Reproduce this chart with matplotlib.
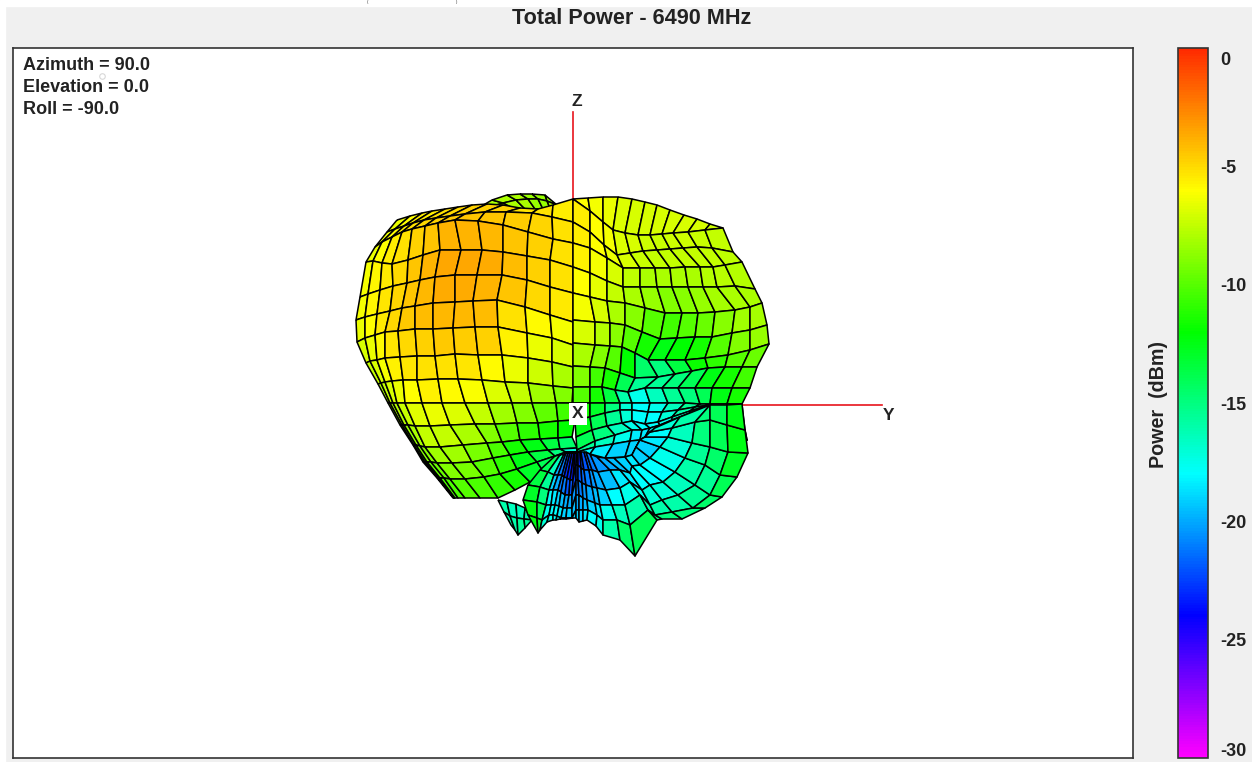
import numpy as np
import matplotlib
matplotlib.use("Agg")
import matplotlib.pyplot as plt
from matplotlib.colors import LinearSegmentedColormap
from matplotlib.patches import Rectangle

plt.rcParams['font.family'] = ['Liberation Sans', 'DejaVu Sans']

# mesh nodes, in the plot box's own units
left_nodes = [
    [(397,220),(410,216),(422,213),(432,211),(445,209),(458,207),(472,205),(487,204),(503,205),(520,208),(538,209),(553,205),(573,199)],
    [(387,232),(395,229),(404,226),(413,223),(424,220),(436,218),(450,216),(465,214),(485,212),(506,212),(532,213),(552,217),(573,222)],
    [(375,247),(382,242),(392,237),(402,232),(412,229),(425,226),(438,223),(455,220),(478,221),(503,225),(528,232),(553,239),(573,243)],
    [(366,262),(373,261),(382,263),(392,264),(408,260),(423,255),(440,250),(461,250),(482,250),(503,252),(527,256),(550,260),(573,267)],
    [(360,297),(368,294),(380,290),(393,286),(407,283),(420,280),(435,277),(455,275),(477,275),(502,275),(527,280),(550,287),(573,293)],
    [(356,320),(365,317),(377,314),(390,311),(402,308),(415,306),(433,303),(455,302),(473,301),(497,300),(525,307),(550,315),(573,322)],
    [(357,342),(365,338),(375,335),(385,332),(398,331),(415,329),(433,329),(453,328),(475,327),(498,327),(527,333),(552,338),(573,345)],
    [(366,363),(370,361),(377,360),(385,358),(400,357),(417,356),(435,356),(455,354),(478,355),(502,355),(528,358),(552,362),(573,367)],
    [(378,384),(381,383),(385,382),(392,381),(403,380),(417,380),(438,379),(458,379),(482,380),(505,382),(528,383),(553,386),(573,388)],
    [(388,403),(390,403),(393,403),(397,403),(405,403),(422,403),(442,403),(465,403),(488,403),(512,403),(532,403),(556,403),(572,403)],
    [(400,425),(402,425),(404,425),(408,425),(415,426),(430,426),(450,425),(475,424),(495,424),(517,423),(538,423),(558,421),(575,420)],
    [(413,445),(414,445),(416,445),(420,446),(425,447),(440,447),(463,445),(487,443),(502,442),(520,440),(540,439),(558,438),(572,437)],
    [(423,462),(425,462),(427,462),(431,462),(437,463),(452,463),(472,462),(493,458),(510,455),(528,452),(548,450),(560,449),(577,448)],
    [(437,478),(438,478),(440,478),(444,478),(450,479),(465,479),(484,477),(500,474),(517,469),(537,462),(555,456),(566,452),(577,452)],
    [(453,498),(454,498),(455,498),(458,498),(465,498),(480,498),(498,498),(515,490),(530,482),(545,474),(562,462),(570,452),(577,452)],
]
left_db = [
    [-6.5,-6,-5.6,-5.6,-5.2,-5,-4.8,-4.8,-4.8,-5.2,-5.2,-5.6],
    [-6.5,-6,-5.6,-5.2,-5,-4.8,-4.5,-4.4,-4.4,-4.6,-4.9,-5.2],
    [-6.5,-6,-5.6,-5.2,-4.8,-4.4,-3.9,-3.9,-4,-4.4,-4.8,-5.2],
    [-6.3,-5.8,-5.4,-5,-4.4,-3.9,-3.6,-3.6,-3.7,-4.2,-4.8,-5.2],
    [-6.3,-5.8,-5.3,-4.9,-4.4,-4,-3.7,-3.7,-3.9,-4.4,-5,-5.5],
    [-6.5,-6,-5.4,-5,-4.5,-4.2,-4,-4,-4.2,-5.2,-5.9,-6.3],
    [-7,-6.5,-5.9,-5.3,-5,-4.7,-4.5,-4.6,-4.8,-5.7,-6.5,-7],
    [-7.5,-7,-6.3,-5.7,-5.3,-5.2,-5.2,-5.3,-5.9,-6.5,-7.2,-8],
    [-8,-7.5,-7,-6.5,-6,-5.7,-5.9,-6.2,-6.8,-7.5,-8.3,-9],
    [-8.5,-8,-7.8,-7.3,-6.7,-6.5,-6.8,-7.5,-8.3,-9,-9.8,-10.5],
    [-9,-8.8,-8.5,-8,-7.5,-7.5,-8,-9,-10,-11,-11.5,-12],
    [-9.5,-9.3,-9,-8.8,-8.3,-8.3,-9.2,-10.2,-11.5,-12.5,-13.5,-14.5],
    [-10,-9.8,-9.6,-9.5,-9,-9.2,-10,-11,-12.5,-13.5,-15,-17],
    [-10.3,-10.3,-10.2,-10.2,-10,-10.2,-10.8,-11.5,-13,-14,-15.5,-17],
]

right_nodes = [
    [(573,199),(588,198),(603,197),(618,197),(632,199),(645,202),(657,205),(670,210),(684,215),(697,219),(710,224),(723,228)],
    [(573,199),(590,211),(603,222),(613,230),(625,233),(638,235),(650,235),(662,234),(673,233),(688,232),(705,230),(723,228)],
    [(573,222),(590,232),(604,245),(617,255),(630,253),(643,251),(657,250),(670,249),(683,248),(697,247),(712,248),(733,252)],
    [(573,243),(590,248),(607,258),(623,268),(640,268),(655,268),(670,268),(685,267),(700,267),(713,267),(725,265),(742,262)],
    [(573,267),(590,273),(607,281),(623,287),(640,287),(657,287),(672,287),(688,287),(703,287),(717,287),(735,286),(755,289)],
    [(573,293),(590,297),(607,301),(625,303),(645,308),(665,313),(682,313),(698,313),(715,312),(735,310),(750,307),(762,303)],
    [(573,320),(595,322),(610,323),(625,325),(642,332),(660,339),(677,338),(695,337),(712,337),(732,333),(750,330),(767,325)],
    [(573,343),(595,345),(610,346),(622,347),(635,353),(648,360),(665,360),(685,360),(705,358),(728,355),(750,350),(769,344)],
    [(573,366),(590,367),(605,368),(620,373),(635,378),(658,377),(675,374),(692,371),(708,368),(725,367),(742,367),(757,367)],
    [(573,387),(590,387),(602,387),(615,390),(628,392),(645,388),(662,388),(678,388),(695,388),(712,388),(732,388),(750,388)],
    [(573,403),(590,403),(605,403),(620,403),(632,403),(650,403),(668,403),(685,403),(700,404),(710,404),(727,404),(742,404)],
    [(575,420),(590,417),(605,413),(620,410),(632,410),(648,412),(662,412),(678,410),(695,407),(710,405),(727,412),(743,414)],
    [(576,437),(592,430),(607,426),(622,423),(632,421),(645,424),(658,422),(672,417),(690,411),(710,405),(727,425),(745,430)],
    [(577,450),(595,441),(615,435),(632,430),(642,430),(650,428),(660,425),(672,420),(690,413),(710,405),(730,440),(747,440)],
    [(577,452),(595,447),(613,444),(630,441),(640,440),(645,437),(655,433),(668,428),(690,415),(710,405),(730,440),(747,440)],
    [(577,452),(590,454),(605,458),(625,457),(632,455),(636,447),(640,440),(645,437),(650,432),(655,428),(727,425),(745,430)],
]
right_db = [
    [-6,-6.3,-6.5,-6.8,-7,-7,-7,-7,-7,-7,-7.2],
    [-5.6,-6,-6.3,-6.8,-7,-7.2,-7.3,-7.2,-7.2,-7.3,-7.5],
    [-5.6,-6,-6.5,-7,-7.3,-7.5,-7.5,-7.5,-7.5,-7.5,-7.6],
    [-5.7,-6.3,-7,-7.6,-8,-8,-8,-8,-7.8,-7.7,-7.8],
    [-6,-6.6,-7.5,-8,-8.5,-9,-8.8,-8.5,-8.2,-8,-8],
    [-6.3,-7,-8,-8.8,-10,-10.5,-10,-9.5,-8.8,-8.3,-8.2],
    [-7,-7.8,-8.8,-10,-11.5,-12.5,-12,-11.5,-10,-9,-8.5],
    [-8,-9,-10,-12,-14.5,-15,-13.5,-11.8,-11,-10,-9.5],
    [-9,-10.5,-11.5,-14,-15.5,-15.5,-15,-14,-12.5,-11.5,-10.5],
    [-10,-11.5,-13.5,-16,-17.5,-16.5,-15.5,-15,-14,-12.5,-11.5],
    [-11.5,-13,-15,-17,-18,-17.5,-16.5,-15.5,-15,-13,-12.5],
    [-12.5,-14,-15.5,-17,-18,-18,-17,-16,-15.5,-14,-13],
    [-14,-15,-16.5,-17.5,-18,-18,-17.5,-16.5,-15.5,-14.5,-13.5],
    [-15.5,-16.5,-17.5,-18.5,-18.5,-18,-17.5,-16.5,-15.5,-14.5,-13.5],
    [-18,-18.5,-19,-19,-18.5,-18,-17.5,-16.5,-15.5,-14.5,-13.5],
]

# lower lobes, one list per spoke going out from the null
fan_spokes = [
    [(555,456),(540,470),(528,485),(523,500),(528,515),(538,533)],
    [(560,455),(548,472),(540,487),(537,502),(537,518),(538,533)],
    [(564,454),(554,475),(549,490),(546,505),(542,520),(540,530)],
    [(566,453),(558,475),(553,490),(551,505),(549,515),(547,522)],
    [(568,453),(562,475),(558,490),(555,505),(553,515),(553,520)],
    [(570,453),(564,477),(561,492),(559,506),(557,516),(556,520)],
    [(572,453),(567,478),(565,495),(563,508),(561,518),(560,519)],
    [(574,453),(570,480),(569,495),(567,508),(566,518),(566,519)],
    [(575,453),(573,480),(572,495),(572,508),(572,518),(573,518)],
    [(577,452),(576,465),(576,480),(576,495),(576,510),(576,518)],
    [(578,452),(578,465),(578,480),(579,495),(579,510),(579,522)],
    [(580,452),(581,468),(582,483),(583,498),(583,510),(583,521)],
    [(581,452),(584,470),(586,485),(587,500),(588,510),(587,520)],
    [(584,452),(589,470),(592,487),(595,503),(597,515),(596,526)],
    [(586,452),(592,470),(597,488),(600,505),(603,520),(603,535)],
    [(590,454),(598,472),(606,490),(612,505),(617,520),(620,540)],
    [(597,457),(610,470),(620,488),(625,505),(630,525),(635,556)],
    [(605,458),(620,470),(630,482),(640,495),(648,510),(657,520)],
    [(614,458),(630,473),(642,490),(650,505),(655,515),(662,519)],
    [(625,457),(632,466),(650,485),(662,500),(672,512),(682,519)],
    [(632,455),(640,465),(663,482),(678,495),(693,508),(705,508)],
    [(636,447),(650,458),(675,472),(695,485),(710,495),(722,497)],
    [(640,440),(660,447),(685,458),(705,465),(720,475),(737,477)],
    [(645,437),(668,437),(692,443),(710,447),(728,452),(748,453)],
    [(650,432),(672,428),(695,422),(710,420),(727,425),(745,430)],
    [(655,428),(680,417),(710,405),(710,405),(727,405),(742,404)],
]
fan_db = [
    [-14,-13.5,-13,-12.5,-12.5],
    [-16.5,-15.5,-15,-14,-13],
    [-20,-19,-18,-17.5,-17],
    [-21,-20,-18.5,-18,-17.5],
    [-22,-21,-19,-18,-18],
    [-23,-21,-19.5,-18.5,-18],
    [-23,-22,-20,-19,-18.5],
    [-23.5,-22,-20,-19,-18.5],
    [-23.5,-22.5,-20.5,-19.5,-19],
    [-23.5,-22.5,-21,-20,-19],
    [-23,-22,-21,-20,-19],
    [-22.5,-21.5,-20.5,-19.5,-18.5],
    [-22,-21,-20,-19,-18],
    [-21.5,-20.5,-19.5,-18.5,-17.5],
    [-21,-20,-19,-17.5,-16],
    [-20.5,-19.5,-18,-16.5,-14.5],
    [-20,-18.5,-17.5,-16,-14],
    [-19.5,-18.5,-17.5,-16,-15],
    [-19,-18,-17,-16,-15],
    [-18.5,-18,-17,-16,-15],
    [-19,-18,-16.5,-15.5,-14.5],
    [-19,-17.5,-16,-15.5,-14],
    [-18.5,-17,-15.5,-14.5,-13],
    [-18,-16.5,-15,-14,-12.5],
    [-17,-16,-15,-14,-12.5],
]

# bits of the far side showing past the silhouette
bump_nodes = [
    [(480,207),(492,200),(507,195),(520,194),(532,194),(545,195),(557,205)],
    [(490,207),(503,203),(516,200),(528,199),(538,199),(547,201),(557,205)],
    [(505,210),(515,209),(525,209),(535,209),(543,209),(550,208),(557,205)],
]
bump_db = [
    [-8,-8,-8,-8.5,-8.5,-8.5],
    [-7.5,-8,-8,-8.5,-8.5,-8],
]
lobe_nodes = [
    [(498,500),(507,502),(516,504),(525,508),(532,520)],
    [(504,512),(510,516),(517,518),(524,519),(532,520)],
    [(511,525),(515,530),(518,535),(525,528),(532,520)],
]
lobe_db = [
    [-16,-16.5,-16.5,-16],
    [-16,-16,-15.5,-15.5],
]

cbar_ticks = [-0.46, -5, -10, -15, -20, -25, -29.66]
cbar_labels = ['0', '-5', '-10', '-15', '-20', '-25', '-30']
view_text = ['Azimuth = 90.0', 'Elevation = 0.0', 'Roll = -90.0']

# 0 red-orange, -6 yellow, -12 green, -18 cyan, -24 blue, -30 magenta
power_cmap = LinearSegmentedColormap.from_list(
    'power', [(0, '#ff00ff'), (0.2, '#0000ff'), (0.4, '#00ffff'), (0.6, '#00ff00'),
              (0.8, '#ffff00'), (1, '#ff2a00')], N=256)


def draw_sheet(ax, nodes, db):
    xy = np.array(nodes, dtype=float)
    return ax.pcolormesh(xy[..., 0], xy[..., 1], np.array(db), cmap=power_cmap, vmin=-30, vmax=0,
                         shading='flat', edgecolors='black', linewidth=1.1, antialiased=True, zorder=3)


fig = plt.figure(figsize=(12.52, 7.62), dpi=100, facecolor='#f0f0f0')
fig.patches.append(Rectangle((0, 1 - 6 / 762), 1, 6 / 762, transform=fig.transFigure, color='white'))
fig.patches.append(Rectangle((0, 0), 5 / 1252, 1, transform=fig.transFigure, color='white'))

# brackets of the caption above the window, only their ends show in the picture
fig.text(367 / 1252, 1 - 0.5 / 762, '(', fontsize=3, ha='center', va='top', color='#222222')
fig.text(457 / 1252, 1 - 0.5 / 762, ')', fontsize=3, ha='center', va='top', color='#222222')

ax = fig.add_axes([13 / 1252, 4 / 762, 1120 / 1252, 710 / 762])
ax.set_xlim(13, 1133)
ax.set_ylim(758, 48)
ax.set_xticks([])
ax.set_yticks([])
for spine in ax.spines.values():
    spine.set_color('#333333')
    spine.set_linewidth(1.2)

# axes of the pattern, mostly hidden by the surface
ax.plot([573, 573], [405, 112], color='#e8141c', lw=1.2, zorder=1)
ax.plot([573, 882], [405, 405], color='#e8141c', lw=1.2, zorder=1)

draw_sheet(ax, bump_nodes, bump_db)
draw_sheet(ax, lobe_nodes, lobe_db)
draw_sheet(ax, left_nodes, left_db)
draw_sheet(ax, right_nodes, right_db)
mesh = draw_sheet(ax, fan_spokes, fan_db)

ax.text(577, 102, 'Z', fontsize=12.5, fontweight='bold', ha='center', va='center', color='#222222')
ax.text(889, 416, 'Y', fontsize=12.5, fontweight='bold', ha='center', va='center', color='#222222')
ax.text(578, 414, 'X', fontsize=12.5, fontweight='bold', ha='center', va='center', color='#222222', zorder=5,
        bbox=dict(facecolor='white', edgecolor='none', pad=2.5))

for i, line in enumerate(view_text):
    ax.text(23, 66 + 22 * i, line, fontsize=13, fontweight='bold', ha='left', va='center', color='#222222')
ax.plot([102], [76], 'o', mfc='none', mec='#d8d8d8', ms=4, mew=0.8)

fig.text(632 / 1252, 1 - 19 / 762, 'Total Power - 6490 MHz', fontsize=15.6, fontweight='bold',
         ha='center', va='center', color='#222222')

cax = fig.add_axes([1178 / 1252, 4 / 762, 30 / 1252, 710 / 762])
cbar = fig.colorbar(mesh, cax=cax)
cbar.set_ticks(cbar_ticks)
cbar.set_ticklabels(cbar_labels)
cbar.ax.tick_params(length=0, pad=9)
for lab in cbar.ax.get_yticklabels():
    lab.set_fontsize(13)
    lab.set_fontweight('bold')
    lab.set_color('#222222')
cbar.outline.set_edgecolor('#333333')
cbar.outline.set_linewidth(1.2)

fig.text(1158 / 1252, 1 - 404 / 762, 'Power  (dBm)', fontsize=14.2, fontweight='bold', rotation=90,
         ha='center', va='center', color='#222222')

fig.savefig('out.png', dpi=100, facecolor=fig.get_facecolor())
